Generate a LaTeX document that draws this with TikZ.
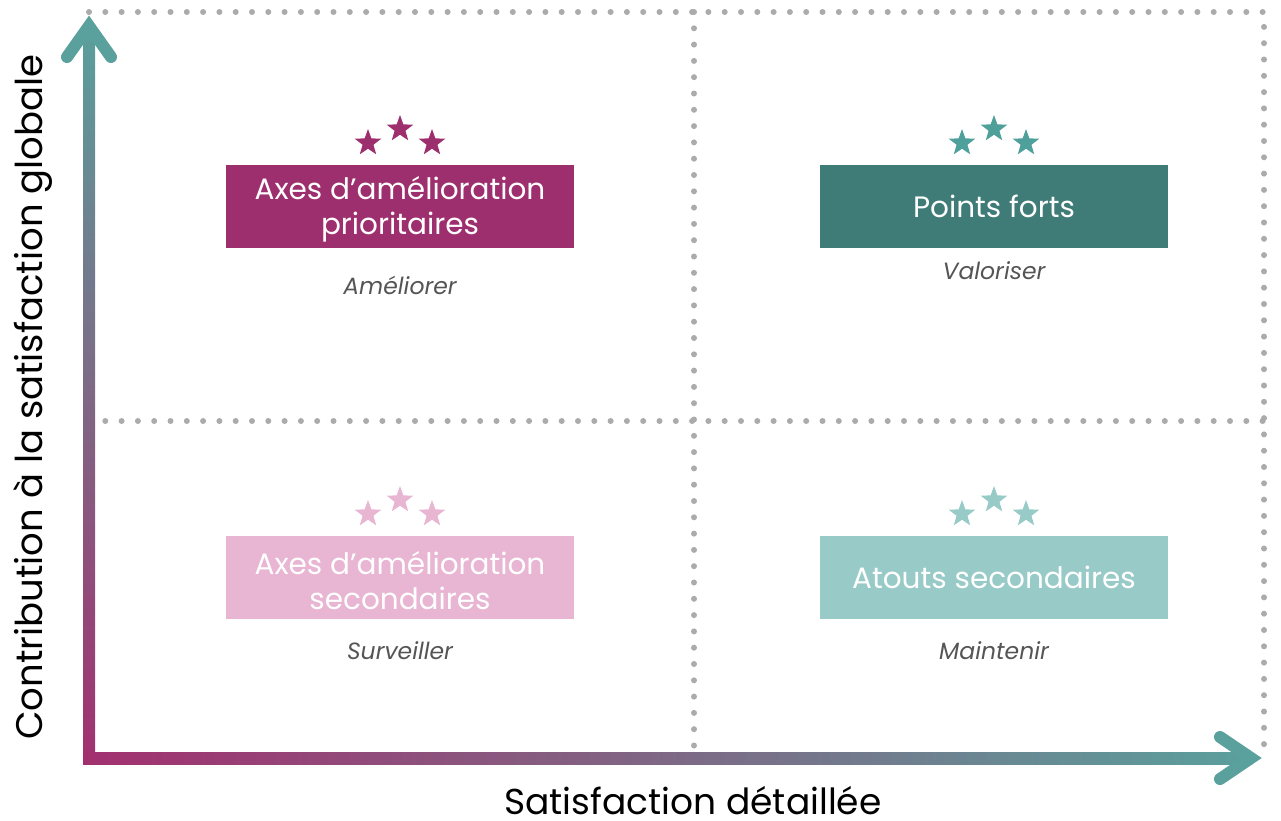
\documentclass[tikz,border=0pt]{standalone}
\usepackage{fontspec}
\setmainfont{Poppins}
\usetikzlibrary{shapes.geometric}

\definecolor{plum}{HTML}{9E2F6E}
\definecolor{pinklight}{HTML}{E8B5D3}
\definecolor{tealdark}{HTML}{3F7B77}
\definecolor{tealstar}{HTML}{4F9F9B}
\definecolor{teallight}{HTML}{98CAC8}
\definecolor{axisteal}{HTML}{5AA09C}
\definecolor{axisplum}{HTML}{A2306F}
\definecolor{dotgrey}{HTML}{ABABAB}
\definecolor{notegrey}{HTML}{555555}

\tikzset{
  quadbox/.style={minimum width=348pt, minimum height=83pt, inner sep=0pt},
  boxtext/.style={inner sep=0pt, text=white, align=center,
    font=\fontsize{29.5}{34.5}\selectfont},
  staricon/.style={star, star points=5, star point ratio=2.45,
    minimum size=28pt, inner sep=0pt, draw=none},
  note/.style={text=notegrey, font=\fontsize{23.5}{28}\selectfont\itshape},
  gridline/.style={dotgrey, line width=6pt, line cap=round,
    dash pattern=on 0pt off 16.3pt},
  arrowhead/.style={axisteal, line width=12pt, line cap=round, line join=miter},
  axislabel/.style={text=black, inner sep=0pt}
}

\begin{document}
\begin{tikzpicture}[x=1pt, y=-1pt]
  \useasboundingbox (0,0) rectangle (1281,820);

  % dotted quadrant grid
  \coordinate (g1) at (89,12);
  \coordinate (g2) at (1264,12);
  \coordinate (g3) at (1264,752);
  \coordinate (g4) at (89,421);
  \coordinate (g5) at (1264,421);
  \coordinate (g6) at (694,12);
  \coordinate (g7) at (694,748);
  \draw[gridline] (g1) -- (g2) -- (g3);
  \draw[gridline] (g4) -- (g5);
  \draw[gridline] (g6) -- (g7);

  % axes with colour gradient
  \shade[top color=axisteal, bottom color=axisplum] (83,24) rectangle (95,764);
  \shade[left color=axisplum, right color=axisteal] (83,752) rectangle (1252,764);
  \coordinate (ya) at (67,57);
  \coordinate (yt) at (89,26);
  \coordinate (yb) at (111,57);
  \draw[arrowhead] (ya) -- (yt) -- (yb);
  \coordinate (xa) at (1220,737);
  \coordinate (xt) at (1251,758);
  \coordinate (xb) at (1220,779);
  \draw[arrowhead] (xa) -- (xt) -- (xb);

  % axis titles
  \node[axislabel, anchor=base, font=\fontsize{36}{40}\selectfont] (xlab) at (693,814) {Satisfaction détaillée};
  \node[axislabel, rotate=90, font=\fontsize{37}{42}\selectfont] (ylab) at (33,397) {Contribution à la satisfaction globale};

  % quadrant boxes
  \node[quadbox, fill=plum] (q1) at (400,206.5) {};
  \node[quadbox, fill=tealdark] (q2) at (994,206.5) {};
  \node[quadbox, fill=pinklight] (q3) at (400,577.5) {};
  \node[quadbox, fill=teallight] (q4) at (994,577.5) {};
  \node[boxtext] (t1) at ([yshift=-3pt]q1.center) {Axes d’amélioration\\prioritaires};
  \node[boxtext] (t2) at (q2.center) {Points forts};
  \node[boxtext] (t3) at ([yshift=-3pt]q3.center) {Axes d’amélioration\\secondaires};
  \node[boxtext] (t4) at (q4.center) {Atouts secondaires};

  % star ratings
  \foreach \cx/\ty/\col [count=\i] in {400/165/plum, 994/165/tealstar, 400/536/pinklight, 994/536/teallight}{
    \node[staricon, fill=\col] (s\i a) at (\cx-32,\ty-22) {};
    \node[staricon, fill=\col] (s\i b) at (\cx,\ty-36) {};
    \node[staricon, fill=\col] (s\i c) at (\cx+32,\ty-22) {};
  }

  % actions
  \node[note] (n1) at (400,285) {Améliorer};
  \node[note] (n2) at (994,271) {Valoriser};
  \node[note] (n3) at (400,651) {Surveiller};
  \node[note] (n4) at (994,651) {Maintenir};
\end{tikzpicture}
\end{document}
